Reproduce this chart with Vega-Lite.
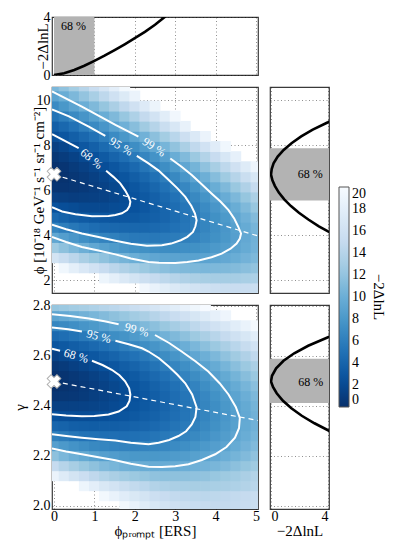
{
"$schema": "https://vega.github.io/schema/vega-lite/v6.json",
"padding": {"left": 11, "top": 9, "right": 5, "bottom": 5},
"config": {
  "font": "Liberation Serif",
  "view": {"stroke": "#3a3a3a", "strokeWidth": 1.2},
  "axis": {"labelFont": "Liberation Serif", "labelFontSize": 14, "labelColor": "#000", "titleFont": "Liberation Serif", "titleFontSize": 15, "titleFontWeight": "normal", "titleColor": "#000", "domain": false, "ticks": false, "tickSize": 0, "labelPadding": 2, "gridColor": "#000", "gridOpacity": 0.55, "gridDash": [1, 2.5], "gridWidth": 0.8, "zindex": 1},
  "text": {"font": "Liberation Serif"}
},
"datasets": {
"h1": [
{"x":2.25,"y":1.65,"v":19.4},{"x":2.5,"y":1.65,"v":18.6},{"x":2.75,"y":1.65,"v":17.9},{"x":3,"y":1.65,"v":17.2},{"x":3.25,"y":1.65,"v":16.7},{"x":3.5,"y":1.65,"v":16.2},{"x":3.75,"y":1.65,"v":15.9},{"x":4,"y":1.65,"v":15.6},{"x":4.25,"y":1.65,"v":15.4},{"x":4.5,"y":1.65,"v":15.3},{"x":4.75,"y":1.65,"v":15.3},{"x":5,"y":1.65,"v":15.4},
{"x":1.25,"y":2.1,"v":19.0},{"x":1.5,"y":2.1,"v":18.1},{"x":1.75,"y":2.1,"v":17.2},{"x":2,"y":2.1,"v":16.4},{"x":2.25,"y":2.1,"v":15.6},{"x":2.5,"y":2.1,"v":15.0},{"x":2.75,"y":2.1,"v":14.5},{"x":3,"y":2.1,"v":14.0},{"x":3.25,"y":2.1,"v":13.6},{"x":3.5,"y":2.1,"v":13.3},{"x":3.75,"y":2.1,"v":13.1},{"x":4,"y":2.1,"v":13.0},{"x":4.25,"y":2.1,"v":13.0},{"x":4.5,"y":2.1,"v":13.0},{"x":4.75,"y":2.1,"v":13.2},{"x":5,"y":2.1,"v":13.4},
{"x":0.25,"y":2.55,"v":19.3},{"x":0.5,"y":2.55,"v":18.1},{"x":0.75,"y":2.55,"v":17.1},{"x":1,"y":2.55,"v":16.1},{"x":1.25,"y":2.55,"v":15.2},{"x":1.5,"y":2.55,"v":14.3},{"x":1.75,"y":2.55,"v":13.6},{"x":2,"y":2.55,"v":13.0},{"x":2.25,"y":2.55,"v":12.4},{"x":2.5,"y":2.55,"v":11.9},{"x":2.75,"y":2.55,"v":11.5},{"x":3,"y":2.55,"v":11.2},{"x":3.25,"y":2.55,"v":11.0},{"x":3.5,"y":2.55,"v":10.9},{"x":3.75,"y":2.55,"v":10.8},{"x":4,"y":2.55,"v":10.9},{"x":4.25,"y":2.55,"v":11.0},{"x":4.5,"y":2.55,"v":11.2},{"x":4.75,"y":2.55,"v":11.5},{"x":5,"y":2.55,"v":11.9},
{"x":0,"y":3,"v":16.4},{"x":0.25,"y":3,"v":15.3},{"x":0.5,"y":3,"v":14.3},{"x":0.75,"y":3,"v":13.3},{"x":1,"y":3,"v":12.5},{"x":1.25,"y":3,"v":11.8},{"x":1.5,"y":3,"v":11.1},{"x":1.75,"y":3,"v":10.5},{"x":2,"y":3,"v":10.0},{"x":2.25,"y":3,"v":9.6},{"x":2.5,"y":3,"v":9.3},{"x":2.75,"y":3,"v":9.1},{"x":3,"y":3,"v":9.0},{"x":3.25,"y":3,"v":8.9},{"x":3.5,"y":3,"v":8.9},{"x":3.75,"y":3,"v":9.0},{"x":4,"y":3,"v":9.2},{"x":4.25,"y":3,"v":9.5},{"x":4.5,"y":3,"v":9.9},{"x":4.75,"y":3,"v":10.4},{"x":5,"y":3,"v":10.9},
{"x":0,"y":3.45,"v":12.6},{"x":0.25,"y":3.45,"v":11.7},{"x":0.5,"y":3.45,"v":10.9},{"x":0.75,"y":3.45,"v":10.1},{"x":1,"y":3.45,"v":9.4},{"x":1.25,"y":3.45,"v":8.8},{"x":1.5,"y":3.45,"v":8.3},{"x":1.75,"y":3.45,"v":7.9},{"x":2,"y":3.45,"v":7.6},{"x":2.25,"y":3.45,"v":7.4},{"x":2.5,"y":3.45,"v":7.2},{"x":2.75,"y":3.45,"v":7.1},{"x":3,"y":3.45,"v":7.1},{"x":3.25,"y":3.45,"v":7.3},{"x":3.5,"y":3.45,"v":7.4},{"x":3.75,"y":3.45,"v":7.7},{"x":4,"y":3.45,"v":8.1},{"x":4.25,"y":3.45,"v":8.5},{"x":4.5,"y":3.45,"v":9.1},{"x":4.75,"y":3.45,"v":9.7},{"x":5,"y":3.45,"v":10.4},
{"x":0,"y":3.9,"v":9.4},{"x":0.25,"y":3.9,"v":8.6},{"x":0.5,"y":3.9,"v":7.9},{"x":0.75,"y":3.9,"v":7.3},{"x":1,"y":3.9,"v":6.8},{"x":1.25,"y":3.9,"v":6.4},{"x":1.5,"y":3.9,"v":6.1},{"x":1.75,"y":3.9,"v":5.8},{"x":2,"y":3.9,"v":5.6},{"x":2.25,"y":3.9,"v":5.6},{"x":2.5,"y":3.9,"v":5.5},{"x":2.75,"y":3.9,"v":5.7},{"x":3,"y":3.9,"v":5.8},{"x":3.25,"y":3.9,"v":6.1},{"x":3.5,"y":3.9,"v":6.4},{"x":3.75,"y":3.9,"v":6.9},{"x":4,"y":3.9,"v":7.4},{"x":4.25,"y":3.9,"v":8.0},{"x":4.5,"y":3.9,"v":8.7},{"x":4.75,"y":3.9,"v":9.5},{"x":5,"y":3.9,"v":10.3},
{"x":0,"y":4.35,"v":6.6},{"x":0.25,"y":4.35,"v":6.0},{"x":0.5,"y":4.35,"v":5.5},{"x":0.75,"y":4.35,"v":5.1},{"x":1,"y":4.35,"v":4.7},{"x":1.25,"y":4.35,"v":4.4},{"x":1.5,"y":4.35,"v":4.3},{"x":1.75,"y":4.35,"v":4.2},{"x":2,"y":4.35,"v":4.2},{"x":2.25,"y":4.35,"v":4.2},{"x":2.5,"y":4.35,"v":4.4},{"x":2.75,"y":4.35,"v":4.6},{"x":3,"y":4.35,"v":5.0},{"x":3.25,"y":4.35,"v":5.4},{"x":3.5,"y":4.35,"v":5.9},{"x":3.75,"y":4.35,"v":6.5},{"x":4,"y":4.35,"v":7.2},{"x":4.25,"y":4.35,"v":7.9},{"x":4.5,"y":4.35,"v":8.8},{"x":4.75,"y":4.35,"v":9.7},{"x":5,"y":4.35,"v":10.6},
{"x":0,"y":4.8,"v":4.4},{"x":0.25,"y":4.8,"v":3.9},{"x":0.5,"y":4.8,"v":3.5},{"x":0.75,"y":4.8,"v":3.3},{"x":1,"y":4.8,"v":3.1},{"x":1.25,"y":4.8,"v":3.0},{"x":1.5,"y":4.8,"v":2.9},{"x":1.75,"y":4.8,"v":3.0},{"x":2,"y":4.8,"v":3.1},{"x":2.25,"y":4.8,"v":3.4},{"x":2.5,"y":4.8,"v":3.7},{"x":2.75,"y":4.8,"v":4.1},{"x":3,"y":4.8,"v":4.6},{"x":3.25,"y":4.8,"v":5.2},{"x":3.5,"y":4.8,"v":5.9},{"x":3.75,"y":4.8,"v":6.6},{"x":4,"y":4.8,"v":7.4},{"x":4.25,"y":4.8,"v":8.2},{"x":4.5,"y":4.8,"v":9.2},{"x":4.75,"y":4.8,"v":10.2},{"x":5,"y":4.8,"v":11.2},
{"x":0,"y":5.25,"v":2.6},{"x":0.25,"y":5.25,"v":2.3},{"x":0.5,"y":5.25,"v":2.1},{"x":0.75,"y":5.25,"v":1.9},{"x":1,"y":5.25,"v":1.9},{"x":1.25,"y":5.25,"v":1.9},{"x":1.5,"y":5.25,"v":2.1},{"x":1.75,"y":5.25,"v":2.3},{"x":2,"y":5.25,"v":2.6},{"x":2.25,"y":5.25,"v":3.0},{"x":2.5,"y":5.25,"v":3.5},{"x":2.75,"y":5.25,"v":4.1},{"x":3,"y":5.25,"v":4.7},{"x":3.25,"y":5.25,"v":5.4},{"x":3.5,"y":5.25,"v":6.1},{"x":3.75,"y":5.25,"v":7.0},{"x":4,"y":5.25,"v":7.9},{"x":4.25,"y":5.25,"v":8.8},{"x":4.5,"y":5.25,"v":9.9},{"x":4.75,"y":5.25,"v":11.0},{"x":5,"y":5.25,"v":12.2},
{"x":0,"y":5.7,"v":1.2},{"x":0.25,"y":5.7,"v":1.1},{"x":0.5,"y":5.7,"v":1.0},{"x":0.75,"y":5.7,"v":1.1},{"x":1,"y":5.7,"v":1.2},{"x":1.25,"y":5.7,"v":1.4},{"x":1.5,"y":5.7,"v":1.7},{"x":1.75,"y":5.7,"v":2.1},{"x":2,"y":5.7,"v":2.6},{"x":2.25,"y":5.7,"v":3.1},{"x":2.5,"y":5.7,"v":3.7},{"x":2.75,"y":5.7,"v":4.4},{"x":3,"y":5.7,"v":5.1},{"x":3.25,"y":5.7,"v":5.9},{"x":3.5,"y":5.7,"v":6.8},{"x":3.75,"y":5.7,"v":7.7},{"x":4,"y":5.7,"v":8.7},{"x":4.25,"y":5.7,"v":9.8},{"x":4.5,"y":5.7,"v":10.9},{"x":4.75,"y":5.7,"v":12.1},{"x":5,"y":5.7,"v":13.4},
{"x":0,"y":6.15,"v":0.4},{"x":0.25,"y":6.15,"v":0.4},{"x":0.5,"y":6.15,"v":0.5},{"x":0.75,"y":6.15,"v":0.7},{"x":1,"y":6.15,"v":1.0},{"x":1.25,"y":6.15,"v":1.4},{"x":1.5,"y":6.15,"v":1.8},{"x":1.75,"y":6.15,"v":2.3},{"x":2,"y":6.15,"v":2.9},{"x":2.25,"y":6.15,"v":3.5},{"x":2.5,"y":6.15,"v":4.2},{"x":2.75,"y":6.15,"v":5.0},{"x":3,"y":6.15,"v":5.8},{"x":3.25,"y":6.15,"v":6.7},{"x":3.5,"y":6.15,"v":7.7},{"x":3.75,"y":6.15,"v":8.7},{"x":4,"y":6.15,"v":9.9},{"x":4.25,"y":6.15,"v":11.0},{"x":4.5,"y":6.15,"v":12.3},{"x":4.75,"y":6.15,"v":13.6},{"x":5,"y":6.15,"v":15.0},
{"x":0,"y":6.6,"v":0.0},{"x":0.25,"y":6.6,"v":0.2},{"x":0.5,"y":6.6,"v":0.5},{"x":0.75,"y":6.6,"v":0.8},{"x":1,"y":6.6,"v":1.2},{"x":1.25,"y":6.6,"v":1.7},{"x":1.5,"y":6.6,"v":2.2},{"x":1.75,"y":6.6,"v":2.8},{"x":2,"y":6.6,"v":3.5},{"x":2.25,"y":6.6,"v":4.2},{"x":2.5,"y":6.6,"v":5.0},{"x":2.75,"y":6.6,"v":5.9},{"x":3,"y":6.6,"v":6.8},{"x":3.25,"y":6.6,"v":7.9},{"x":3.5,"y":6.6,"v":9.0},{"x":3.75,"y":6.6,"v":10.1},{"x":4,"y":6.6,"v":11.3},{"x":4.25,"y":6.6,"v":12.6},{"x":4.5,"y":6.6,"v":14.0},{"x":4.75,"y":6.6,"v":15.4},{"x":5,"y":6.6,"v":16.9},
{"x":0,"y":7.05,"v":0.1},{"x":0.25,"y":7.05,"v":0.4},{"x":0.5,"y":7.05,"v":0.8},{"x":0.75,"y":7.05,"v":1.2},{"x":1,"y":7.05,"v":1.7},{"x":1.25,"y":7.05,"v":2.3},{"x":1.5,"y":7.05,"v":2.9},{"x":1.75,"y":7.05,"v":3.6},{"x":2,"y":7.05,"v":4.4},{"x":2.25,"y":7.05,"v":5.3},{"x":2.5,"y":7.05,"v":6.2},{"x":2.75,"y":7.05,"v":7.2},{"x":3,"y":7.05,"v":8.2},{"x":3.25,"y":7.05,"v":9.3},{"x":3.5,"y":7.05,"v":10.5},{"x":3.75,"y":7.05,"v":11.8},{"x":4,"y":7.05,"v":13.1},{"x":4.25,"y":7.05,"v":14.5},{"x":4.5,"y":7.05,"v":16.0},{"x":4.75,"y":7.05,"v":17.5},{"x":5,"y":7.05,"v":19.1},
{"x":0,"y":7.5,"v":0.5},{"x":0.25,"y":7.5,"v":0.9},{"x":0.5,"y":7.5,"v":1.4},{"x":0.75,"y":7.5,"v":1.9},{"x":1,"y":7.5,"v":2.5},{"x":1.25,"y":7.5,"v":3.2},{"x":1.5,"y":7.5,"v":4.0},{"x":1.75,"y":7.5,"v":4.8},{"x":2,"y":7.5,"v":5.7},{"x":2.25,"y":7.5,"v":6.6},{"x":2.5,"y":7.5,"v":7.6},{"x":2.75,"y":7.5,"v":8.7},{"x":3,"y":7.5,"v":9.9},{"x":3.25,"y":7.5,"v":11.1},{"x":3.5,"y":7.5,"v":12.4},{"x":3.75,"y":7.5,"v":13.8},{"x":4,"y":7.5,"v":15.2},{"x":4.25,"y":7.5,"v":16.8},{"x":4.5,"y":7.5,"v":18.3},
{"x":0,"y":7.95,"v":1.2},{"x":0.25,"y":7.95,"v":1.7},{"x":0.5,"y":7.95,"v":2.3},{"x":0.75,"y":7.95,"v":3.0},{"x":1,"y":7.95,"v":3.7},{"x":1.25,"y":7.95,"v":4.5},{"x":1.5,"y":7.95,"v":5.3},{"x":1.75,"y":7.95,"v":6.2},{"x":2,"y":7.95,"v":7.2},{"x":2.25,"y":7.95,"v":8.3},{"x":2.5,"y":7.95,"v":9.4},{"x":2.75,"y":7.95,"v":10.6},{"x":3,"y":7.95,"v":11.9},{"x":3.25,"y":7.95,"v":13.3},{"x":3.5,"y":7.95,"v":14.7},{"x":3.75,"y":7.95,"v":16.1},{"x":4,"y":7.95,"v":17.7},{"x":4.25,"y":7.95,"v":19.3},
{"x":0,"y":8.4,"v":2.3},{"x":0.25,"y":8.4,"v":2.9},{"x":0.5,"y":8.4,"v":3.6},{"x":0.75,"y":8.4,"v":4.3},{"x":1,"y":8.4,"v":5.1},{"x":1.25,"y":8.4,"v":6.0},{"x":1.5,"y":8.4,"v":7.0},{"x":1.75,"y":8.4,"v":8.0},{"x":2,"y":8.4,"v":9.1},{"x":2.25,"y":8.4,"v":10.3},{"x":2.5,"y":8.4,"v":11.6},{"x":2.75,"y":8.4,"v":12.9},{"x":3,"y":8.4,"v":14.2},{"x":3.25,"y":8.4,"v":15.7},{"x":3.5,"y":8.4,"v":17.2},{"x":3.75,"y":8.4,"v":18.8},
{"x":0,"y":8.85,"v":3.6},{"x":0.25,"y":8.85,"v":4.3},{"x":0.5,"y":8.85,"v":5.1},{"x":0.75,"y":8.85,"v":6.0},{"x":1,"y":8.85,"v":6.9},{"x":1.25,"y":8.85,"v":7.9},{"x":1.5,"y":8.85,"v":9.0},{"x":1.75,"y":8.85,"v":10.2},{"x":2,"y":8.85,"v":11.4},{"x":2.25,"y":8.85,"v":12.7},{"x":2.5,"y":8.85,"v":14.0},{"x":2.75,"y":8.85,"v":15.4},{"x":3,"y":8.85,"v":16.9},{"x":3.25,"y":8.85,"v":18.5},
{"x":0,"y":9.3,"v":5.2},{"x":0.25,"y":9.3,"v":6.0},{"x":0.5,"y":9.3,"v":6.9},{"x":0.75,"y":9.3,"v":7.8},{"x":1,"y":9.3,"v":8.8},{"x":1.25,"y":9.3,"v":9.9},{"x":1.5,"y":9.3,"v":11.0},{"x":1.75,"y":9.3,"v":12.2},{"x":2,"y":9.3,"v":13.5},{"x":2.25,"y":9.3,"v":14.9},{"x":2.5,"y":9.3,"v":16.3},{"x":2.75,"y":9.3,"v":17.8},{"x":3,"y":9.3,"v":19.4},
{"x":0,"y":9.75,"v":7.0},{"x":0.25,"y":9.75,"v":8.0},{"x":0.5,"y":9.75,"v":9.0},{"x":0.75,"y":9.75,"v":10.0},{"x":1,"y":9.75,"v":11.0},{"x":1.25,"y":9.75,"v":12.1},{"x":1.5,"y":9.75,"v":13.3},{"x":1.75,"y":9.75,"v":14.6},{"x":2,"y":9.75,"v":16.0},{"x":2.25,"y":9.75,"v":17.4},{"x":2.5,"y":9.75,"v":18.9},
{"x":0,"y":10.2,"v":9.0},{"x":0.25,"y":10.2,"v":9.9},{"x":0.5,"y":10.2,"v":10.9},{"x":0.75,"y":10.2,"v":12.0},{"x":1,"y":10.2,"v":13.2},{"x":1.25,"y":10.2,"v":14.5},{"x":1.5,"y":10.2,"v":15.9},{"x":1.75,"y":10.2,"v":17.3},{"x":2,"y":10.2,"v":18.8},
{"x":0,"y":10.65,"v":10.8},{"x":0.25,"y":10.65,"v":11.8},{"x":0.5,"y":10.65,"v":12.9},{"x":0.75,"y":10.65,"v":14.0},{"x":1,"y":10.65,"v":15.3},{"x":1.25,"y":10.65,"v":16.6},{"x":1.5,"y":10.65,"v":18.0},{"x":1.75,"y":10.65,"v":19.5}
],
"h2": [
{"x":0,"y":2.12,"v":18.8},{"x":0,"y":2.16,"v":15.0},{"x":0,"y":2.2,"v":11.7},{"x":0,"y":2.24,"v":8.7},{"x":0,"y":2.28,"v":6.2},{"x":0,"y":2.32,"v":4.1},{"x":0,"y":2.36,"v":2.5},{"x":0,"y":2.4,"v":1.2},{"x":0,"y":2.44,"v":0.4},{"x":0,"y":2.48,"v":0.0},{"x":0,"y":2.52,"v":0.1},{"x":0,"y":2.56,"v":0.5},{"x":0,"y":2.6,"v":1.4},{"x":0,"y":2.64,"v":2.7},{"x":0,"y":2.68,"v":4.4},{"x":0,"y":2.72,"v":6.6},{"x":0,"y":2.76,"v":9.1},{"x":0,"y":2.8,"v":12.1},
{"x":0.25,"y":2.12,"v":17.5},{"x":0.25,"y":2.16,"v":14.0},{"x":0.25,"y":2.2,"v":10.8},{"x":0.25,"y":2.24,"v":8.1},{"x":0.25,"y":2.28,"v":5.8},{"x":0.25,"y":2.32,"v":3.9},{"x":0.25,"y":2.36,"v":2.3},{"x":0.25,"y":2.4,"v":1.2},{"x":0.25,"y":2.44,"v":0.5},{"x":0.25,"y":2.48,"v":0.2},{"x":0.25,"y":2.52,"v":0.3},{"x":0.25,"y":2.56,"v":0.8},{"x":0.25,"y":2.6,"v":1.8},{"x":0.25,"y":2.64,"v":3.1},{"x":0.25,"y":2.68,"v":4.8},{"x":0.25,"y":2.72,"v":6.9},{"x":0.25,"y":2.76,"v":9.5},{"x":0.25,"y":2.8,"v":12.4},
{"x":0.5,"y":2.12,"v":16.4},{"x":0.5,"y":2.16,"v":13.1},{"x":0.5,"y":2.2,"v":10.1},{"x":0.5,"y":2.24,"v":7.6},{"x":0.5,"y":2.28,"v":5.4},{"x":0.5,"y":2.32,"v":3.6},{"x":0.5,"y":2.36,"v":2.2},{"x":0.5,"y":2.4,"v":1.3},{"x":0.5,"y":2.44,"v":0.6},{"x":0.5,"y":2.48,"v":0.4},{"x":0.5,"y":2.52,"v":0.6},{"x":0.5,"y":2.56,"v":1.2},{"x":0.5,"y":2.6,"v":2.1},{"x":0.5,"y":2.64,"v":3.5},{"x":0.5,"y":2.68,"v":5.2},{"x":0.5,"y":2.72,"v":7.3},{"x":0.5,"y":2.76,"v":9.9},{"x":0.5,"y":2.8,"v":12.8},
{"x":0.75,"y":2.08,"v":19.0},{"x":0.75,"y":2.12,"v":15.5},{"x":0.75,"y":2.16,"v":12.3},{"x":0.75,"y":2.2,"v":9.6},{"x":0.75,"y":2.24,"v":7.2},{"x":0.75,"y":2.28,"v":5.1},{"x":0.75,"y":2.32,"v":3.5},{"x":0.75,"y":2.36,"v":2.2},{"x":0.75,"y":2.4,"v":1.4},{"x":0.75,"y":2.44,"v":0.8},{"x":0.75,"y":2.48,"v":0.7},{"x":0.75,"y":2.52,"v":0.9},{"x":0.75,"y":2.56,"v":1.6},{"x":0.75,"y":2.6,"v":2.6},{"x":0.75,"y":2.64,"v":3.9},{"x":0.75,"y":2.68,"v":5.7},{"x":0.75,"y":2.72,"v":7.8},{"x":0.75,"y":2.76,"v":10.3},{"x":0.75,"y":2.8,"v":13.1},
{"x":1,"y":2.08,"v":18.0},{"x":1,"y":2.12,"v":14.6},{"x":1,"y":2.16,"v":11.7},{"x":1,"y":2.2,"v":9.1},{"x":1,"y":2.24,"v":6.8},{"x":1,"y":2.28,"v":5.0},{"x":1,"y":2.32,"v":3.4},{"x":1,"y":2.36,"v":2.3},{"x":1,"y":2.4,"v":1.5},{"x":1,"y":2.44,"v":1.1},{"x":1,"y":2.48,"v":1.0},{"x":1,"y":2.52,"v":1.3},{"x":1,"y":2.56,"v":2.0},{"x":1,"y":2.6,"v":3.0},{"x":1,"y":2.64,"v":4.4},{"x":1,"y":2.68,"v":6.1},{"x":1,"y":2.72,"v":8.2},{"x":1,"y":2.76,"v":10.7},{"x":1,"y":2.8,"v":13.5},
{"x":1.25,"y":2.04,"v":19.5},{"x":1.25,"y":2.08,"v":17.0},{"x":1.25,"y":2.12,"v":13.9},{"x":1.25,"y":2.16,"v":11.1},{"x":1.25,"y":2.2,"v":8.7},{"x":1.25,"y":2.24,"v":6.6},{"x":1.25,"y":2.28,"v":4.8},{"x":1.25,"y":2.32,"v":3.5},{"x":1.25,"y":2.36,"v":2.4},{"x":1.25,"y":2.4,"v":1.7},{"x":1.25,"y":2.44,"v":1.4},{"x":1.25,"y":2.48,"v":1.4},{"x":1.25,"y":2.52,"v":1.7},{"x":1.25,"y":2.56,"v":2.4},{"x":1.25,"y":2.6,"v":3.5},{"x":1.25,"y":2.64,"v":4.9},{"x":1.25,"y":2.68,"v":6.6},{"x":1.25,"y":2.72,"v":8.7},{"x":1.25,"y":2.76,"v":11.2},{"x":1.25,"y":2.8,"v":14.0},
{"x":1.5,"y":2.04,"v":18.6},{"x":1.5,"y":2.08,"v":16.3},{"x":1.5,"y":2.12,"v":13.3},{"x":1.5,"y":2.16,"v":10.7},{"x":1.5,"y":2.2,"v":8.4},{"x":1.5,"y":2.24,"v":6.4},{"x":1.5,"y":2.28,"v":4.8},{"x":1.5,"y":2.32,"v":3.5},{"x":1.5,"y":2.36,"v":2.6},{"x":1.5,"y":2.4,"v":2.0},{"x":1.5,"y":2.44,"v":1.7},{"x":1.5,"y":2.48,"v":1.8},{"x":1.5,"y":2.52,"v":2.2},{"x":1.5,"y":2.56,"v":2.9},{"x":1.5,"y":2.6,"v":4.0},{"x":1.5,"y":2.64,"v":5.4},{"x":1.5,"y":2.68,"v":7.2},{"x":1.5,"y":2.72,"v":9.3},{"x":1.5,"y":2.76,"v":11.7},{"x":1.5,"y":2.8,"v":14.4},
{"x":1.75,"y":2,"v":19.5},{"x":1.75,"y":2.04,"v":17.7},{"x":1.75,"y":2.08,"v":15.4},{"x":1.75,"y":2.12,"v":12.8},{"x":1.75,"y":2.16,"v":10.3},{"x":1.75,"y":2.2,"v":8.2},{"x":1.75,"y":2.24,"v":6.3},{"x":1.75,"y":2.28,"v":4.8},{"x":1.75,"y":2.32,"v":3.7},{"x":1.75,"y":2.36,"v":2.8},{"x":1.75,"y":2.4,"v":2.3},{"x":1.75,"y":2.44,"v":2.1},{"x":1.75,"y":2.48,"v":2.2},{"x":1.75,"y":2.52,"v":2.7},{"x":1.75,"y":2.56,"v":3.5},{"x":1.75,"y":2.6,"v":4.6},{"x":1.75,"y":2.64,"v":6.0},{"x":1.75,"y":2.68,"v":7.7},{"x":1.75,"y":2.72,"v":9.8},{"x":1.75,"y":2.76,"v":12.2},{"x":1.75,"y":2.8,"v":14.9},
{"x":2,"y":2,"v":18.6},{"x":2,"y":2.04,"v":17.0},{"x":2,"y":2.08,"v":14.8},{"x":2,"y":2.12,"v":12.4},{"x":2,"y":2.16,"v":10.1},{"x":2,"y":2.2,"v":8.0},{"x":2,"y":2.24,"v":6.3},{"x":2,"y":2.28,"v":4.9},{"x":2,"y":2.32,"v":3.9},{"x":2,"y":2.36,"v":3.1},{"x":2,"y":2.4,"v":2.7},{"x":2,"y":2.44,"v":2.5},{"x":2,"y":2.48,"v":2.7},{"x":2,"y":2.52,"v":3.2},{"x":2,"y":2.56,"v":4.0},{"x":2,"y":2.6,"v":5.1},{"x":2,"y":2.64,"v":6.6},{"x":2,"y":2.68,"v":8.3},{"x":2,"y":2.72,"v":10.4},{"x":2,"y":2.76,"v":12.8},{"x":2,"y":2.8,"v":15.4},
{"x":2.25,"y":2,"v":17.6},{"x":2.25,"y":2.04,"v":16.4},{"x":2.25,"y":2.08,"v":14.4},{"x":2.25,"y":2.12,"v":12.1},{"x":2.25,"y":2.16,"v":9.9},{"x":2.25,"y":2.2,"v":8.0},{"x":2.25,"y":2.24,"v":6.4},{"x":2.25,"y":2.28,"v":5.1},{"x":2.25,"y":2.32,"v":4.1},{"x":2.25,"y":2.36,"v":3.5},{"x":2.25,"y":2.4,"v":3.1},{"x":2.25,"y":2.44,"v":3.0},{"x":2.25,"y":2.48,"v":3.2},{"x":2.25,"y":2.52,"v":3.8},{"x":2.25,"y":2.56,"v":4.6},{"x":2.25,"y":2.6,"v":5.7},{"x":2.25,"y":2.64,"v":7.2},{"x":2.25,"y":2.68,"v":8.9},{"x":2.25,"y":2.72,"v":11.0},{"x":2.25,"y":2.76,"v":13.3},{"x":2.25,"y":2.8,"v":16.0},
{"x":2.5,"y":2,"v":16.8},{"x":2.5,"y":2.04,"v":15.6},{"x":2.5,"y":2.08,"v":13.8},{"x":2.5,"y":2.12,"v":11.8},{"x":2.5,"y":2.16,"v":9.8},{"x":2.5,"y":2.2,"v":8.0},{"x":2.5,"y":2.24,"v":6.5},{"x":2.5,"y":2.28,"v":5.3},{"x":2.5,"y":2.32,"v":4.4},{"x":2.5,"y":2.36,"v":3.8},{"x":2.5,"y":2.4,"v":3.5},{"x":2.5,"y":2.44,"v":3.5},{"x":2.5,"y":2.48,"v":3.8},{"x":2.5,"y":2.52,"v":4.4},{"x":2.5,"y":2.56,"v":5.2},{"x":2.5,"y":2.6,"v":6.4},{"x":2.5,"y":2.64,"v":7.8},{"x":2.5,"y":2.68,"v":9.6},{"x":2.5,"y":2.72,"v":11.6},{"x":2.5,"y":2.76,"v":14.0},{"x":2.5,"y":2.8,"v":16.6},
{"x":2.75,"y":2,"v":16.3},{"x":2.75,"y":2.04,"v":15.2},{"x":2.75,"y":2.08,"v":13.5},{"x":2.75,"y":2.12,"v":11.7},{"x":2.75,"y":2.16,"v":9.8},{"x":2.75,"y":2.2,"v":8.1},{"x":2.75,"y":2.24,"v":6.7},{"x":2.75,"y":2.28,"v":5.6},{"x":2.75,"y":2.32,"v":4.8},{"x":2.75,"y":2.36,"v":4.3},{"x":2.75,"y":2.4,"v":4.0},{"x":2.75,"y":2.44,"v":4.1},{"x":2.75,"y":2.48,"v":4.4},{"x":2.75,"y":2.52,"v":5.0},{"x":2.75,"y":2.56,"v":5.9},{"x":2.75,"y":2.6,"v":7.1},{"x":2.75,"y":2.64,"v":8.5},{"x":2.75,"y":2.68,"v":10.3},{"x":2.75,"y":2.72,"v":12.3},{"x":2.75,"y":2.76,"v":14.6},{"x":2.75,"y":2.8,"v":17.2},
{"x":3,"y":2,"v":15.8},{"x":3,"y":2.04,"v":14.8},{"x":3,"y":2.08,"v":13.3},{"x":3,"y":2.12,"v":11.7},{"x":3,"y":2.16,"v":9.8},{"x":3,"y":2.2,"v":8.3},{"x":3,"y":2.24,"v":7.0},{"x":3,"y":2.28,"v":6.0},{"x":3,"y":2.32,"v":5.2},{"x":3,"y":2.36,"v":4.8},{"x":3,"y":2.4,"v":4.6},{"x":3,"y":2.44,"v":4.7},{"x":3,"y":2.48,"v":5.0},{"x":3,"y":2.52,"v":5.7},{"x":3,"y":2.56,"v":6.6},{"x":3,"y":2.6,"v":7.8},{"x":3,"y":2.64,"v":9.2},{"x":3,"y":2.68,"v":11.0},{"x":3,"y":2.72,"v":13.0},{"x":3,"y":2.76,"v":15.3},{"x":3,"y":2.8,"v":17.8},
{"x":3.25,"y":2,"v":15.4},{"x":3.25,"y":2.04,"v":14.6},{"x":3.25,"y":2.08,"v":13.2},{"x":3.25,"y":2.12,"v":11.7},{"x":3.25,"y":2.16,"v":10.0},{"x":3.25,"y":2.2,"v":8.5},{"x":3.25,"y":2.24,"v":7.3},{"x":3.25,"y":2.28,"v":6.4},{"x":3.25,"y":2.32,"v":5.7},{"x":3.25,"y":2.36,"v":5.3},{"x":3.25,"y":2.4,"v":5.2},{"x":3.25,"y":2.44,"v":5.3},{"x":3.25,"y":2.48,"v":5.7},{"x":3.25,"y":2.52,"v":6.4},{"x":3.25,"y":2.56,"v":7.3},{"x":3.25,"y":2.6,"v":8.5},{"x":3.25,"y":2.64,"v":10.0},{"x":3.25,"y":2.68,"v":11.7},{"x":3.25,"y":2.72,"v":13.7},{"x":3.25,"y":2.76,"v":16.0},{"x":3.25,"y":2.8,"v":18.5},
{"x":3.5,"y":2,"v":15.2},{"x":3.5,"y":2.04,"v":14.5},{"x":3.5,"y":2.08,"v":13.1},{"x":3.5,"y":2.12,"v":11.8},{"x":3.5,"y":2.16,"v":10.2},{"x":3.5,"y":2.2,"v":8.8},{"x":3.5,"y":2.24,"v":7.7},{"x":3.5,"y":2.28,"v":6.8},{"x":3.5,"y":2.32,"v":6.2},{"x":3.5,"y":2.36,"v":5.9},{"x":3.5,"y":2.4,"v":5.8},{"x":3.5,"y":2.44,"v":6.0},{"x":3.5,"y":2.48,"v":6.4},{"x":3.5,"y":2.52,"v":7.1},{"x":3.5,"y":2.56,"v":8.1},{"x":3.5,"y":2.6,"v":9.3},{"x":3.5,"y":2.64,"v":10.8},{"x":3.5,"y":2.68,"v":12.5},{"x":3.5,"y":2.72,"v":14.5},{"x":3.5,"y":2.76,"v":16.7},{"x":3.5,"y":2.8,"v":19.2},
{"x":3.75,"y":2,"v":15.0},{"x":3.75,"y":2.04,"v":14.4},{"x":3.75,"y":2.08,"v":13.1},{"x":3.75,"y":2.12,"v":11.9},{"x":3.75,"y":2.16,"v":10.4},{"x":3.75,"y":2.2,"v":9.1},{"x":3.75,"y":2.24,"v":8.1},{"x":3.75,"y":2.28,"v":7.3},{"x":3.75,"y":2.32,"v":6.8},{"x":3.75,"y":2.36,"v":6.5},{"x":3.75,"y":2.4,"v":6.5},{"x":3.75,"y":2.44,"v":6.7},{"x":3.75,"y":2.48,"v":7.2},{"x":3.75,"y":2.52,"v":7.9},{"x":3.75,"y":2.56,"v":8.9},{"x":3.75,"y":2.6,"v":10.1},{"x":3.75,"y":2.64,"v":11.6},{"x":3.75,"y":2.68,"v":13.3},{"x":3.75,"y":2.72,"v":15.3},{"x":3.75,"y":2.76,"v":17.5},{"x":3.75,"y":2.8,"v":19.9},
{"x":4,"y":2,"v":14.9},{"x":4,"y":2.04,"v":14.5},{"x":4,"y":2.08,"v":13.2},{"x":4,"y":2.12,"v":12.2},{"x":4,"y":2.16,"v":10.7},{"x":4,"y":2.2,"v":9.5},{"x":4,"y":2.24,"v":8.6},{"x":4,"y":2.28,"v":7.9},{"x":4,"y":2.32,"v":7.4},{"x":4,"y":2.36,"v":7.2},{"x":4,"y":2.4,"v":7.2},{"x":4,"y":2.44,"v":7.5},{"x":4,"y":2.48,"v":8.0},{"x":4,"y":2.52,"v":8.7},{"x":4,"y":2.56,"v":9.7},{"x":4,"y":2.6,"v":10.9},{"x":4,"y":2.64,"v":12.4},{"x":4,"y":2.68,"v":14.1},{"x":4,"y":2.72,"v":16.1},{"x":4,"y":2.76,"v":18.3},
{"x":4.25,"y":2,"v":14.9},{"x":4.25,"y":2.04,"v":14.6},{"x":4.25,"y":2.08,"v":13.3},{"x":4.25,"y":2.12,"v":12.5},{"x":4.25,"y":2.16,"v":11.1},{"x":4.25,"y":2.2,"v":10.0},{"x":4.25,"y":2.24,"v":9.1},{"x":4.25,"y":2.28,"v":8.5},{"x":4.25,"y":2.32,"v":8.1},{"x":4.25,"y":2.36,"v":7.9},{"x":4.25,"y":2.4,"v":8.0},{"x":4.25,"y":2.44,"v":8.3},{"x":4.25,"y":2.48,"v":8.8},{"x":4.25,"y":2.52,"v":9.6},{"x":4.25,"y":2.56,"v":10.6},{"x":4.25,"y":2.6,"v":11.8},{"x":4.25,"y":2.64,"v":13.3},{"x":4.25,"y":2.68,"v":15.0},{"x":4.25,"y":2.72,"v":16.9},{"x":4.25,"y":2.76,"v":19.1},
{"x":4.5,"y":2,"v":15.0},{"x":4.5,"y":2.04,"v":14.8},{"x":4.5,"y":2.08,"v":13.5},{"x":4.5,"y":2.12,"v":12.8},{"x":4.5,"y":2.16,"v":11.6},{"x":4.5,"y":2.2,"v":10.5},{"x":4.5,"y":2.24,"v":9.7},{"x":4.5,"y":2.28,"v":9.2},{"x":4.5,"y":2.32,"v":8.8},{"x":4.5,"y":2.36,"v":8.7},{"x":4.5,"y":2.4,"v":8.8},{"x":4.5,"y":2.44,"v":9.1},{"x":4.5,"y":2.48,"v":9.7},{"x":4.5,"y":2.52,"v":10.5},{"x":4.5,"y":2.56,"v":11.5},{"x":4.5,"y":2.6,"v":12.7},{"x":4.5,"y":2.64,"v":14.2},{"x":4.5,"y":2.68,"v":15.9},{"x":4.5,"y":2.72,"v":17.8},
{"x":4.75,"y":2,"v":15.2},{"x":4.75,"y":2.04,"v":15.0},{"x":4.75,"y":2.08,"v":13.8},{"x":4.75,"y":2.12,"v":13.3},{"x":4.75,"y":2.16,"v":12.1},{"x":4.75,"y":2.2,"v":11.1},{"x":4.75,"y":2.24,"v":10.4},{"x":4.75,"y":2.28,"v":9.9},{"x":4.75,"y":2.32,"v":9.6},{"x":4.75,"y":2.36,"v":9.5},{"x":4.75,"y":2.4,"v":9.6},{"x":4.75,"y":2.44,"v":10.0},{"x":4.75,"y":2.48,"v":10.6},{"x":4.75,"y":2.52,"v":11.4},{"x":4.75,"y":2.56,"v":12.4},{"x":4.75,"y":2.6,"v":13.6},{"x":4.75,"y":2.64,"v":15.1},{"x":4.75,"y":2.68,"v":16.8},{"x":4.75,"y":2.72,"v":18.7},
{"x":5,"y":2,"v":15.4},{"x":5,"y":2.04,"v":15.3},{"x":5,"y":2.08,"v":14.2},{"x":5,"y":2.12,"v":13.8},{"x":5,"y":2.16,"v":12.6},{"x":5,"y":2.2,"v":11.8},{"x":5,"y":2.24,"v":11.1},{"x":5,"y":2.28,"v":10.6},{"x":5,"y":2.32,"v":10.3},{"x":5,"y":2.36,"v":10.3},{"x":5,"y":2.4,"v":10.5},{"x":5,"y":2.44,"v":10.9},{"x":5,"y":2.48,"v":11.5},{"x":5,"y":2.52,"v":12.3},{"x":5,"y":2.56,"v":13.3},{"x":5,"y":2.6,"v":14.6},{"x":5,"y":2.64,"v":16.1},{"x":5,"y":2.68,"v":17.8},{"x":5,"y":2.72,"v":19.7}
],
"c1": [
{"seg":"68a","o":0,"x":-0.05,"y":8.5},{"seg":"68a","o":1,"x":0.61,"y":7.88},
{"seg":"68b","o":0,"x":1.29,"y":6.87},{"seg":"68b","o":1,"x":1.47,"y":6.6},{"seg":"68b","o":2,"x":1.64,"y":6.31},{"seg":"68b","o":3,"x":1.76,"y":6.0},{"seg":"68b","o":4,"x":1.85,"y":5.71},{"seg":"68b","o":5,"x":1.89,"y":5.49},{"seg":"68b","o":6,"x":1.87,"y":5.3},{"seg":"68b","o":7,"x":1.81,"y":5.12},{"seg":"68b","o":8,"x":1.68,"y":4.98},{"seg":"68b","o":9,"x":1.52,"y":4.9},{"seg":"68b","o":10,"x":1.35,"y":4.86},{"seg":"68b","o":11,"x":0.94,"y":4.85},{"seg":"68b","o":12,"x":0.53,"y":4.94},{"seg":"68b","o":13,"x":0.2,"y":5.06},{"seg":"68b","o":14,"x":-0.05,"y":5.25},
{"seg":"95a","o":0,"x":-0.05,"y":9.6},{"seg":"95a","o":1,"x":0.37,"y":9.29},{"seg":"95a","o":2,"x":0.86,"y":8.84},{"seg":"95a","o":3,"x":1.27,"y":8.42},
{"seg":"95b","o":0,"x":2.05,"y":7.53},{"seg":"95b","o":1,"x":2.34,"y":7.2},{"seg":"95b","o":2,"x":2.59,"y":6.88},{"seg":"95b","o":3,"x":2.84,"y":6.46},{"seg":"95b","o":4,"x":3.05,"y":6.1},{"seg":"95b","o":5,"x":3.25,"y":5.71},{"seg":"95b","o":6,"x":3.4,"y":5.3},{"seg":"95b","o":7,"x":3.49,"y":4.97},{"seg":"95b","o":8,"x":3.53,"y":4.67},{"seg":"95b","o":9,"x":3.5,"y":4.4},{"seg":"95b","o":10,"x":3.44,"y":4.15},{"seg":"95b","o":11,"x":3.3,"y":3.93},{"seg":"95b","o":12,"x":3.14,"y":3.78},{"seg":"95b","o":13,"x":2.9,"y":3.63},{"seg":"95b","o":14,"x":2.67,"y":3.56},{"seg":"95b","o":15,"x":2.3,"y":3.53},{"seg":"95b","o":16,"x":1.9,"y":3.62},{"seg":"95b","o":17,"x":1.52,"y":3.76},{"seg":"95b","o":18,"x":1.1,"y":3.92},{"seg":"95b","o":19,"x":0.69,"y":4.08},{"seg":"95b","o":20,"x":0.3,"y":4.27},{"seg":"95b","o":21,"x":-0.05,"y":4.47},
{"seg":"99a","o":0,"x":-0.05,"y":10.4},{"seg":"99a","o":1,"x":0.69,"y":9.73},{"seg":"99a","o":2,"x":1.1,"y":9.33},{"seg":"99a","o":3,"x":1.52,"y":8.91},{"seg":"99a","o":4,"x":2.09,"y":8.39},
{"seg":"99b","o":0,"x":2.88,"y":7.42},{"seg":"99b","o":1,"x":3.15,"y":7.06},{"seg":"99b","o":2,"x":3.41,"y":6.68},{"seg":"99b","o":3,"x":3.65,"y":6.28},{"seg":"99b","o":4,"x":3.9,"y":5.86},{"seg":"99b","o":5,"x":4.12,"y":5.5},{"seg":"99b","o":6,"x":4.32,"y":5.12},{"seg":"99b","o":7,"x":4.46,"y":4.75},{"seg":"99b","o":8,"x":4.56,"y":4.38},{"seg":"99b","o":9,"x":4.63,"y":4.08},{"seg":"99b","o":10,"x":4.6,"y":3.85},{"seg":"99b","o":11,"x":4.52,"y":3.63},{"seg":"99b","o":12,"x":4.37,"y":3.4},{"seg":"99b","o":13,"x":4.15,"y":3.18},{"seg":"99b","o":14,"x":3.9,"y":3.02},{"seg":"99b","o":15,"x":3.58,"y":2.88},{"seg":"99b","o":16,"x":3.3,"y":2.81},{"seg":"99b","o":17,"x":3.0,"y":2.77},{"seg":"99b","o":18,"x":2.6,"y":2.78},{"seg":"99b","o":19,"x":2.34,"y":2.81},{"seg":"99b","o":20,"x":1.9,"y":2.97},{"seg":"99b","o":21,"x":1.52,"y":3.15},{"seg":"99b","o":22,"x":1.1,"y":3.32},{"seg":"99b","o":23,"x":0.69,"y":3.48},{"seg":"99b","o":24,"x":0.3,"y":3.7},{"seg":"99b","o":25,"x":-0.05,"y":3.92}
],
"c2": [
{"seg":"68a","o":0,"x":-0.05,"y":2.628},{"seg":"68a","o":1,"x":0.15,"y":2.62},
{"seg":"68b","o":0,"x":0.94,"y":2.58},{"seg":"68b","o":1,"x":1.2,"y":2.563},{"seg":"68b","o":2,"x":1.43,"y":2.544},{"seg":"68b","o":3,"x":1.62,"y":2.522},{"seg":"68b","o":4,"x":1.76,"y":2.498},{"seg":"68b","o":5,"x":1.86,"y":2.47},{"seg":"68b","o":6,"x":1.89,"y":2.445},{"seg":"68b","o":7,"x":1.87,"y":2.42},{"seg":"68b","o":8,"x":1.8,"y":2.398},{"seg":"68b","o":9,"x":1.6,"y":2.377},{"seg":"68b","o":10,"x":1.35,"y":2.365},{"seg":"68b","o":11,"x":1.0,"y":2.359},{"seg":"68b","o":12,"x":0.69,"y":2.358},{"seg":"68b","o":13,"x":0.3,"y":2.361},{"seg":"68b","o":14,"x":-0.05,"y":2.366},
{"seg":"95a","o":0,"x":-0.05,"y":2.713},{"seg":"95a","o":1,"x":0.35,"y":2.706},{"seg":"95a","o":2,"x":0.69,"y":2.697},
{"seg":"95b","o":0,"x":1.52,"y":2.66},{"seg":"95b","o":1,"x":1.85,"y":2.646},{"seg":"95b","o":2,"x":2.18,"y":2.63},{"seg":"95b","o":3,"x":2.34,"y":2.617},{"seg":"95b","o":4,"x":2.6,"y":2.59},{"seg":"95b","o":5,"x":2.84,"y":2.557},{"seg":"95b","o":6,"x":3.05,"y":2.525},{"seg":"95b","o":7,"x":3.25,"y":2.49},{"seg":"95b","o":8,"x":3.42,"y":2.445},{"seg":"95b","o":9,"x":3.53,"y":2.394},{"seg":"95b","o":10,"x":3.5,"y":2.355},{"seg":"95b","o":11,"x":3.41,"y":2.325},{"seg":"95b","o":12,"x":3.27,"y":2.298},{"seg":"95b","o":13,"x":3.08,"y":2.279},{"seg":"95b","o":14,"x":2.85,"y":2.263},{"seg":"95b","o":15,"x":2.59,"y":2.252},{"seg":"95b","o":16,"x":2.34,"y":2.246},{"seg":"95b","o":17,"x":1.9,"y":2.252},{"seg":"95b","o":18,"x":1.52,"y":2.261},{"seg":"95b","o":19,"x":1.1,"y":2.266},{"seg":"95b","o":20,"x":0.69,"y":2.272},{"seg":"95b","o":21,"x":0.3,"y":2.279},{"seg":"95b","o":22,"x":-0.05,"y":2.286},
{"seg":"99a","o":0,"x":-0.05,"y":2.766},{"seg":"99a","o":1,"x":0.4,"y":2.759},{"seg":"99a","o":2,"x":0.86,"y":2.749},{"seg":"99a","o":3,"x":1.25,"y":2.738},{"seg":"99a","o":4,"x":1.6,"y":2.726},
{"seg":"99b","o":0,"x":2.5,"y":2.683},{"seg":"99b","o":1,"x":2.85,"y":2.651},{"seg":"99b","o":2,"x":3.16,"y":2.617},{"seg":"99b","o":3,"x":3.5,"y":2.578},{"seg":"99b","o":4,"x":3.82,"y":2.537},{"seg":"99b","o":5,"x":4.1,"y":2.49},{"seg":"99b","o":6,"x":4.32,"y":2.445},{"seg":"99b","o":7,"x":4.5,"y":2.395},{"seg":"99b","o":8,"x":4.6,"y":2.351},{"seg":"99b","o":9,"x":4.58,"y":2.31},{"seg":"99b","o":10,"x":4.48,"y":2.272},{"seg":"99b","o":11,"x":4.27,"y":2.235},{"seg":"99b","o":12,"x":3.99,"y":2.206},{"seg":"99b","o":13,"x":3.66,"y":2.183},{"seg":"99b","o":14,"x":3.33,"y":2.166},{"seg":"99b","o":15,"x":3.0,"y":2.158},{"seg":"99b","o":16,"x":2.67,"y":2.155},{"seg":"99b","o":17,"x":2.34,"y":2.156},{"seg":"99b","o":18,"x":1.9,"y":2.168},{"seg":"99b","o":19,"x":1.52,"y":2.182},{"seg":"99b","o":20,"x":1.1,"y":2.194},{"seg":"99b","o":21,"x":0.69,"y":2.206},{"seg":"99b","o":22,"x":0.3,"y":2.217},{"seg":"99b","o":23,"x":-0.05,"y":2.229}
],
"l1": [{"x":0.93,"y":7.41,"t":"68 %"},{"x":1.66,"y":7.96,"t":"95 %"},{"x":2.48,"y":7.93,"t":"99 %"}],
"l2": [{"x":0.55,"y":2.6,"t":"68 %"},{"x":1.11,"y":2.678,"t":"95 %"},{"x":2.05,"y":2.704,"t":"99 %"}],
"d1": [{"x":0,"y":6.7},{"x":5.05,"y":3.97}],
"d2": [{"x":0,"y":2.497},{"x":5.05,"y":2.341}],
"b1": [{"x":0,"y":6.72}],
"b2": [{"x":0,"y":2.497}],
"px": [{"x":0,"d":0},{"x":0.25,"d":0.12},{"x":0.5,"d":0.35},{"x":0.75,"d":0.64},{"x":1,"d":0.97},{"x":1.25,"d":1.33},{"x":1.5,"d":1.72},{"x":1.75,"d":2.12},{"x":2,"d":2.54},{"x":2.25,"d":2.98},{"x":2.5,"d":3.46},{"x":2.74,"d":4.0},{"x":2.8,"d":4.15}],
"py1": [{"d":4.3,"y":4.08},{"d":4.0,"y":4.17},{"d":3.36,"y":4.4},{"d":2.62,"y":4.7},{"d":1.96,"y":5.0},{"d":1.4,"y":5.3},{"d":0.93,"y":5.6},{"d":0.55,"y":5.9},{"d":0.27,"y":6.2},{"d":0.1,"y":6.45},{"d":0,"y":6.7},{"d":0.05,"y":6.95},{"d":0.18,"y":7.2},{"d":0.47,"y":7.5},{"d":0.89,"y":7.8},{"d":1.44,"y":8.1},{"d":2.12,"y":8.4},{"d":2.93,"y":8.7},{"d":4.0,"y":9.03},{"d":4.3,"y":9.13}],
"py2": [{"d":4.3,"y":2.294},{"d":4.0,"y":2.302},{"d":3.05,"y":2.33},{"d":2.16,"y":2.36},{"d":1.43,"y":2.39},{"d":0.84,"y":2.42},{"d":0.4,"y":2.45},{"d":0.14,"y":2.475},{"d":0,"y":2.497},{"d":0.07,"y":2.52},{"d":0.36,"y":2.55},{"d":0.88,"y":2.58},{"d":1.63,"y":2.61},{"d":2.61,"y":2.64},{"d":4.0,"y":2.674},{"d":4.3,"y":2.68}],
"bx": [{"a":0,"b":1}],
"by1": [{"a":5.55,"b":7.87}],
"by2": [{"a":2.411,"b":2.588}],
"t0": [{"x":0.48,"d":3.35,"t":"68 %"}],
"t1": [{"d":2.76,"y":6.74,"t":"68 %"}],
"t2": [{"d":2.79,"y":2.497,"t":"68 %"}]
},
"columns": 2,
"spacing": 12,
"bounds": "flush",
"concat": [
 {
  "width": 206, "height": 58,
  "layer": [
   {"data": {"name": "bx"}, "mark": {"type": "rect", "color": "#b3b3b3"},
    "encoding": {"x": {"field": "a", "type": "quantitative", "scale": {"domain": [-0.05, 5.05], "nice": false, "zero": false}, "axis": {"values": [0, 1, 2, 3, 4, 5], "labels": false, "title": null}}, "x2": {"field": "b"}}},
   {"data": {"name": "px"}, "mark": {"type": "line", "color": "#000", "strokeWidth": 2.6, "clip": true},
    "encoding": {"x": {"field": "x", "type": "quantitative"}, "y": {"field": "d", "type": "quantitative", "scale": {"domain": [0, 4], "nice": false}, "axis": {"values": [0, 1, 2, 3, 4], "title": "−2ΔlnL", "titleX": -10, "titleBaseline": "middle"}}}},
   {"data": {"name": "t0"}, "mark": {"type": "text", "fontSize": 12, "color": "#000"},
    "encoding": {"x": {"field": "x", "type": "quantitative"}, "y": {"field": "d", "type": "quantitative"}, "text": {"field": "t"}}}
  ]
 },
 {
  "width": 59, "height": 58,
  "view": {"stroke": null},
  "data": {"name": "bx"},
  "mark": {"type": "point", "opacity": 0},
  "encoding": {}
 },
 {
  "width": 206, "height": 206,
  "layer": [
   {"data": {"name": "h1"}, "mark": {"type": "point", "shape": "square", "filled": true, "size": 118, "opacity": 1, "strokeWidth": 0, "clip": true},
    "encoding": {
     "x": {"field": "x", "type": "quantitative", "scale": {"domain": [-0.05, 5.05], "nice": false, "zero": false}, "axis": {"values": [0, 1, 2, 3, 4, 5], "labels": false, "title": null}},
     "y": {"field": "y", "type": "quantitative", "scale": {"domain": [1.43, 10.6], "nice": false, "zero": false}, "axis": {"values": [2, 3, 4, 5, 6, 7, 8, 9, 10], "title": "ϕ [10⁻¹⁸ GeV⁻¹ s⁻¹ sr⁻¹ cm⁻²]", "titleX": -14, "titleBaseline": "middle"}},
     "color": {"field": "v", "type": "quantitative",
      "scale": {"domain": [0, 2.5, 5, 7.5, 10, 12.5, 15, 17.5, 20], "range": ["#08306b", "#08519c", "#2171b5", "#4292c6", "#6baed6", "#9ecae1", "#c6dbef", "#deebf7", "#f7fbff"], "interpolate": "rgb"},
      "legend": {"orient": "none", "legendX": 287, "legendY": 170, "direction": "vertical", "gradientLength": 220, "gradientThickness": 10, "values": [0, 2, 4, 6, 8, 10, 12, 14, 16, 18, 20], "title": "−2ΔlnL", "titleOrient": "right", "titleAngle": 270, "titleAnchor": "middle", "titleFont": "Liberation Serif", "titleFontSize": 15, "titleFontWeight": "normal", "titleColor": "#000", "labelFont": "Liberation Serif", "labelFontSize": 14, "labelColor": "#000", "labelOffset": 3, "gradientStrokeColor": "#555", "gradientStrokeWidth": 1}}
    }},
   {"data": {"name": "c1"}, "mark": {"type": "line", "color": "#ffffff", "strokeWidth": 2, "clip": true},
    "encoding": {"x": {"field": "x", "type": "quantitative"}, "y": {"field": "y", "type": "quantitative"}, "detail": {"field": "seg"}, "order": {"field": "o", "type": "quantitative"}}},
   {"data": {"name": "d1"}, "mark": {"type": "line", "color": "#ffffff", "strokeWidth": 1.2, "strokeDash": [5, 4], "clip": true},
    "encoding": {"x": {"field": "x", "type": "quantitative"}, "y": {"field": "y", "type": "quantitative"}}},
   {"data": {"name": "l1"}, "transform": [{"filter": "datum.t === '68 %'"}], "mark": {"type": "text", "fontSize": 12, "color": "#ffffff", "angle": 40},
    "encoding": {"x": {"field": "x", "type": "quantitative"}, "y": {"field": "y", "type": "quantitative"}, "text": {"field": "t"}}},
   {"data": {"name": "l1"}, "transform": [{"filter": "datum.t === '95 %'"}], "mark": {"type": "text", "fontSize": 12, "color": "#ffffff", "angle": 31},
    "encoding": {"x": {"field": "x", "type": "quantitative"}, "y": {"field": "y", "type": "quantitative"}, "text": {"field": "t"}}},
   {"data": {"name": "l1"}, "transform": [{"filter": "datum.t === '99 %'"}], "mark": {"type": "text", "fontSize": 12, "color": "#ffffff", "angle": 33},
    "encoding": {"x": {"field": "x", "type": "quantitative"}, "y": {"field": "y", "type": "quantitative"}, "text": {"field": "t"}}},
   {"data": {"name": "b1"}, "mark": {"type": "point", "shape": "cross", "angle": 45, "size": 190, "filled": true, "color": "#ffffff", "stroke": "#b0b0b0", "strokeWidth": 1, "opacity": 1, "clip": false},
    "encoding": {"x": {"field": "x", "type": "quantitative"}, "y": {"field": "y", "type": "quantitative"}}}
  ]
 },
 {
  "width": 59, "height": 206,
  "layer": [
   {"data": {"name": "by1"}, "mark": {"type": "rect", "color": "#b3b3b3"},
    "encoding": {"y": {"field": "a", "type": "quantitative", "scale": {"domain": [1.43, 10.6], "nice": false, "zero": false}, "axis": {"values": [2, 3, 4, 5, 6, 7, 8, 9, 10], "labels": false, "title": null}}, "y2": {"field": "b"}}},
   {"data": {"name": "py1"}, "mark": {"type": "line", "color": "#000", "strokeWidth": 2.6, "clip": true},
    "encoding": {"x": {"field": "d", "type": "quantitative", "scale": {"domain": [-0.07, 4.07], "nice": false, "zero": false}, "axis": {"values": [0, 1, 2, 3, 4], "labels": false, "title": null}}, "y": {"field": "y", "type": "quantitative"}, "order": {"field": "y", "type": "quantitative"}}},
   {"data": {"name": "t1"}, "mark": {"type": "text", "fontSize": 12, "color": "#000"},
    "encoding": {"x": {"field": "d", "type": "quantitative"}, "y": {"field": "y", "type": "quantitative"}, "text": {"field": "t"}}}
  ]
 },
 {
  "width": 206, "height": 204,
  "layer": [
   {"data": {"name": "h2"}, "mark": {"type": "point", "shape": "square", "filled": true, "size": 118, "opacity": 1, "strokeWidth": 0, "clip": true},
    "encoding": {
     "x": {"field": "x", "type": "quantitative", "scale": {"domain": [-0.05, 5.05], "nice": false, "zero": false}, "axis": {"values": [0, 1, 2, 3, 4, 5], "title": "ϕₚᵣₒₘₚₜ [ERS]", "labelPadding": 0, "titlePadding": 0}},
     "y": {"field": "y", "type": "quantitative", "scale": {"domain": [1.987, 2.803], "nice": false, "zero": false}, "axis": {"values": [2, 2.1, 2.2, 2.3, 2.4, 2.5, 2.6, 2.7, 2.8], "format": ".1f", "title": "γ", "titleX": -33, "titleBaseline": "middle"}},
     "color": {"field": "v", "type": "quantitative",
      "scale": {"domain": [0, 2.5, 5, 7.5, 10, 12.5, 15, 17.5, 20], "range": ["#08306b", "#08519c", "#2171b5", "#4292c6", "#6baed6", "#9ecae1", "#c6dbef", "#deebf7", "#f7fbff"], "interpolate": "rgb"},
      "legend": {"orient": "none", "legendX": 287, "legendY": 170, "direction": "vertical", "gradientLength": 220, "gradientThickness": 10, "values": [0, 2, 4, 6, 8, 10, 12, 14, 16, 18, 20], "title": "−2ΔlnL", "titleOrient": "right", "titleAngle": 270, "titleAnchor": "middle", "titleFont": "Liberation Serif", "titleFontSize": 15, "titleFontWeight": "normal", "titleColor": "#000", "labelFont": "Liberation Serif", "labelFontSize": 14, "labelColor": "#000", "labelOffset": 3, "gradientStrokeColor": "#555", "gradientStrokeWidth": 1}}
    }},
   {"data": {"name": "c2"}, "mark": {"type": "line", "color": "#ffffff", "strokeWidth": 2, "clip": true},
    "encoding": {"x": {"field": "x", "type": "quantitative"}, "y": {"field": "y", "type": "quantitative"}, "detail": {"field": "seg"}, "order": {"field": "o", "type": "quantitative"}}},
   {"data": {"name": "d2"}, "mark": {"type": "line", "color": "#ffffff", "strokeWidth": 1.2, "strokeDash": [5, 4], "clip": true},
    "encoding": {"x": {"field": "x", "type": "quantitative"}, "y": {"field": "y", "type": "quantitative"}}},
   {"data": {"name": "l2"}, "transform": [{"filter": "datum.t === '68 %'"}], "mark": {"type": "text", "fontSize": 12, "color": "#ffffff", "angle": 17},
    "encoding": {"x": {"field": "x", "type": "quantitative"}, "y": {"field": "y", "type": "quantitative"}, "text": {"field": "t"}}},
   {"data": {"name": "l2"}, "transform": [{"filter": "datum.t === '95 %'"}], "mark": {"type": "text", "fontSize": 12, "color": "#ffffff", "angle": 15},
    "encoding": {"x": {"field": "x", "type": "quantitative"}, "y": {"field": "y", "type": "quantitative"}, "text": {"field": "t"}}},
   {"data": {"name": "l2"}, "transform": [{"filter": "datum.t === '99 %'"}], "mark": {"type": "text", "fontSize": 12, "color": "#ffffff", "angle": 16},
    "encoding": {"x": {"field": "x", "type": "quantitative"}, "y": {"field": "y", "type": "quantitative"}, "text": {"field": "t"}}},
   {"data": {"name": "b2"}, "mark": {"type": "point", "shape": "cross", "angle": 45, "size": 190, "filled": true, "color": "#ffffff", "stroke": "#b0b0b0", "strokeWidth": 1, "opacity": 1, "clip": false},
    "encoding": {"x": {"field": "x", "type": "quantitative"}, "y": {"field": "y", "type": "quantitative"}}}
  ]
 },
 {
  "width": 59, "height": 204,
  "layer": [
   {"data": {"name": "by2"}, "mark": {"type": "rect", "color": "#b3b3b3"},
    "encoding": {"y": {"field": "a", "type": "quantitative", "scale": {"domain": [1.987, 2.803], "nice": false, "zero": false}, "axis": {"values": [2, 2.1, 2.2, 2.3, 2.4, 2.5, 2.6, 2.7, 2.8], "labels": false, "title": null}}, "y2": {"field": "b"}}},
   {"data": {"name": "py2"}, "mark": {"type": "line", "color": "#000", "strokeWidth": 2.6, "clip": true},
    "encoding": {"x": {"field": "d", "type": "quantitative", "scale": {"domain": [-0.07, 4.07], "nice": false, "zero": false}, "axis": {"values": [0, 1, 2, 3, 4], "title": "−2ΔlnL", "labelPadding": 0, "titlePadding": 0}}, "y": {"field": "y", "type": "quantitative"}, "order": {"field": "y", "type": "quantitative"}}},
   {"data": {"name": "t2"}, "mark": {"type": "text", "fontSize": 12, "color": "#000"},
    "encoding": {"x": {"field": "d", "type": "quantitative"}, "y": {"field": "y", "type": "quantitative"}, "text": {"field": "t"}}}
  ]
 }
]
}
